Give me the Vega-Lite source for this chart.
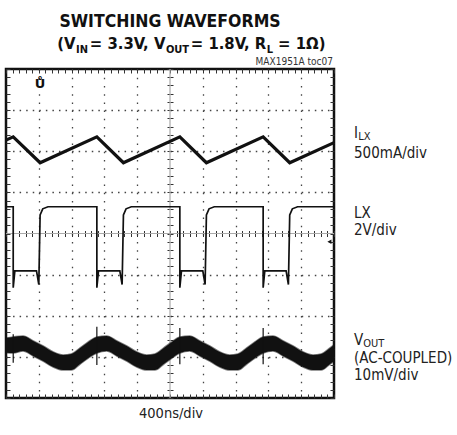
{
  "$schema": "https://vega.github.io/schema/vega-lite/v6.json",
  "width": 328,
  "height": 329,
  "autosize": {"type": "none"},
  "padding": {"left": 6, "top": 69, "right": 123, "bottom": 37},
  "background": "white",
  "config": {
    "view": {"stroke": "#111", "strokeWidth": 2.5},
    "font": "DejaVu Sans Condensed, Roboto Condensed, Roboto, sans-serif",
    "axis": {"labels": false, "domain": false, "grid": false, "tickColor": "#333", "tickWidth": 1}
  },
  "resolve": {
    "scale": {"x": "independent", "y": "independent"},
    "axis": {"x": "independent", "y": "independent"}
  },
  "datasets": {
    "crosshair": [
      {"x": 5, "x2": 5, "y": 0, "y2": 8},
      {"x": 0, "x2": 10, "y": 4, "y2": 4}
    ],
    "vout": [
      {"x": 0, "lo": 1.10, "hi": 1.46},
      {"x": 0.22, "lo": 1.095, "hi": 1.484},
      {"x": 0.52, "lo": 1.144, "hi": 1.509},
      {"x": 0.83, "lo": 1.022, "hi": 1.387},
      {"x": 1.13, "lo": 0.900, "hi": 1.265},
      {"x": 1.44, "lo": 0.754, "hi": 1.119},
      {"x": 1.74, "lo": 0.681, "hi": 1.046},
      {"x": 1.99, "lo": 0.681, "hi": 1.071},
      {"x": 2.26, "lo": 0.827, "hi": 1.217},
      {"x": 2.51, "lo": 0.973, "hi": 1.363},
      {"x": 2.77, "lo": 1.095, "hi": 1.484},
      {"x": 3.07, "lo": 1.144, "hi": 1.509},
      {"x": 3.38, "lo": 1.022, "hi": 1.387},
      {"x": 3.68, "lo": 0.900, "hi": 1.265},
      {"x": 3.99, "lo": 0.754, "hi": 1.119},
      {"x": 4.29, "lo": 0.681, "hi": 1.046},
      {"x": 4.54, "lo": 0.681, "hi": 1.071},
      {"x": 4.81, "lo": 0.827, "hi": 1.217},
      {"x": 5.06, "lo": 0.973, "hi": 1.363},
      {"x": 5.30, "lo": 1.095, "hi": 1.484},
      {"x": 5.60, "lo": 1.144, "hi": 1.509},
      {"x": 5.91, "lo": 1.022, "hi": 1.387},
      {"x": 6.21, "lo": 0.900, "hi": 1.265},
      {"x": 6.52, "lo": 0.754, "hi": 1.119},
      {"x": 6.82, "lo": 0.681, "hi": 1.046},
      {"x": 7.07, "lo": 0.681, "hi": 1.071},
      {"x": 7.34, "lo": 0.827, "hi": 1.217},
      {"x": 7.59, "lo": 0.973, "hi": 1.363},
      {"x": 7.84, "lo": 1.095, "hi": 1.484},
      {"x": 8.14, "lo": 1.144, "hi": 1.509},
      {"x": 8.45, "lo": 1.022, "hi": 1.387},
      {"x": 8.75, "lo": 0.900, "hi": 1.265},
      {"x": 9.06, "lo": 0.754, "hi": 1.119},
      {"x": 9.36, "lo": 0.681, "hi": 1.046},
      {"x": 9.61, "lo": 0.681, "hi": 1.071},
      {"x": 9.88, "lo": 0.827, "hi": 1.217},
      {"x": 10.0, "lo": 0.90, "hi": 1.29}
    ],
    "spikes": [
      {"x": 0.22, "lo": 0.86, "hi": 1.55},
      {"x": 2.77, "lo": 0.80, "hi": 1.73},
      {"x": 5.30, "lo": 0.82, "hi": 1.70},
      {"x": 7.84, "lo": 0.82, "hi": 1.70}
    ],
    "ilx": [
      {"x": 0, "y": 6.27},
      {"x": 0.22, "y": 6.35},
      {"x": 1.04, "y": 5.72},
      {"x": 2.77, "y": 6.35},
      {"x": 3.58, "y": 5.72},
      {"x": 5.30, "y": 6.35},
      {"x": 6.11, "y": 5.72},
      {"x": 7.84, "y": 6.35},
      {"x": 8.65, "y": 5.72},
      {"x": 10, "y": 6.21}
    ],
    "lx": [
      {"i": 0, "x": 0, "y": 4.65},
      {"i": 1, "x": 0.22, "y": 4.65},
      {"i": 2, "x": 0.22, "y": 2.68},
      {"i": 3, "x": 0.27, "y": 3.09},
      {"i": 4, "x": 0.93, "y": 3.09},
      {"i": 5, "x": 1.00, "y": 2.76},
      {"i": 6, "x": 1.04, "y": 4.45},
      {"i": 7, "x": 1.12, "y": 4.60},
      {"i": 8, "x": 1.28, "y": 4.65},
      {"i": 9, "x": 2.77, "y": 4.65},
      {"i": 10, "x": 2.77, "y": 2.68},
      {"i": 11, "x": 2.82, "y": 3.09},
      {"i": 12, "x": 3.47, "y": 3.09},
      {"i": 13, "x": 3.54, "y": 2.76},
      {"i": 14, "x": 3.58, "y": 4.45},
      {"i": 15, "x": 3.66, "y": 4.60},
      {"i": 16, "x": 3.82, "y": 4.65},
      {"i": 17, "x": 5.30, "y": 4.65},
      {"i": 18, "x": 5.30, "y": 2.68},
      {"i": 19, "x": 5.35, "y": 3.09},
      {"i": 20, "x": 6.00, "y": 3.09},
      {"i": 21, "x": 6.07, "y": 2.76},
      {"i": 22, "x": 6.11, "y": 4.45},
      {"i": 23, "x": 6.19, "y": 4.60},
      {"i": 24, "x": 6.35, "y": 4.65},
      {"i": 25, "x": 7.84, "y": 4.65},
      {"i": 26, "x": 7.84, "y": 2.68},
      {"i": 27, "x": 7.89, "y": 3.09},
      {"i": 28, "x": 8.54, "y": 3.09},
      {"i": 29, "x": 8.61, "y": 2.76},
      {"i": 30, "x": 8.65, "y": 4.45},
      {"i": 31, "x": 8.73, "y": 4.60},
      {"i": 32, "x": 8.89, "y": 4.65},
      {"i": 33, "x": 10, "y": 4.65}
    ],
    "trigger": [{"t": "Ů", "x": 1.04, "y": 7.54}],
    "arrow": [{"x": 9.86, "y": 3.80}],
    "titleLine1": [{"t": "SWITCHING WAVEFORMS", "x": 5.0, "y": 9.02}],
    "titleRight": [
      {"t": "(V", "x": 2.119, "y": 8.49},
      {"t": "= 3.3V, V", "x": 4.860, "y": 8.49},
      {"t": "= 1.8V, R", "x": 7.936, "y": 8.49}
    ],
    "titleLeft": [{"t": "= 1Ω)", "x": 8.296, "y": 8.49}],
    "titleSub": [
      {"t": "IN", "x": 2.134, "y": 8.39},
      {"t": "OUT", "x": 4.875, "y": 8.39},
      {"t": "L", "x": 7.951, "y": 8.39}
    ],
    "labels": [
      {"t": "I", "x": 10.61, "y": 6.32},
      {"t": "500mA/div", "x": 10.61, "y": 5.84},
      {"t": "LX", "x": 10.61, "y": 4.38},
      {"t": "2V/div", "x": 10.61, "y": 3.97},
      {"t": "V", "x": 10.61, "y": 1.30},
      {"t": "(AC-COUPLED)", "x": 10.61, "y": 0.86},
      {"t": "10mV/div", "x": 10.61, "y": 0.43}
    ],
    "labelSub": [
      {"t": "LX", "x": 10.74, "y": 6.265},
      {"t": "OUT", "x": 10.89, "y": 1.245}
    ],
    "xlabel": [{"t": "400ns/div", "x": 5.03, "y": -0.49}],
    "note": [{"t": "MAX1951A toc07", "x": 9.97, "y": 8.10}]
  },
  "layer": [
    {
      "data": {"name": "crosshair"},
      "mark": {"type": "rule", "color": "#aaaaaa", "strokeWidth": 1.2},
      "encoding": {
        "x": {"field": "x", "type": "quantitative", "title": null, "scale": {"domain": [0, 10], "nice": false, "zero": false},
          "axis": {"orient": "bottom", "values": [1, 2, 3, 4, 6, 7, 8, 9], "grid": true, "gridDash": [1.5, 6.72], "gridColor": "#444", "gridWidth": 1.3, "ticks": false}},
        "x2": {"field": "x2"},
        "y": {"field": "y", "type": "quantitative", "title": null, "scale": {"domain": [0, 8], "nice": false, "zero": false},
          "axis": {"orient": "left", "values": [1, 2, 3, 5, 6, 7], "grid": true, "gridDash": [1.5, 5.06], "gridColor": "#444", "gridWidth": 1.3, "ticks": false}},
        "y2": {"field": "y2"}
      }
    },
    {
      "data": {"name": "vout"},
      "mark": {"type": "area", "color": "#111", "stroke": "#111", "strokeWidth": 1.6, "strokeOpacity": 0.55, "interpolate": "monotone"},
      "encoding": {
        "x": {"field": "x", "type": "quantitative", "title": null, "scale": {"domain": [0, 10], "nice": false, "zero": false},
          "axis": {"orient": "bottom", "offset": -329, "tickCount": 50, "tickSize": 4}},
        "y": {"field": "lo", "type": "quantitative", "title": null, "scale": {"domain": [0, 8], "nice": false, "zero": false},
          "axis": {"orient": "right", "offset": -328, "tickCount": 40, "tickSize": 4}},
        "y2": {"field": "hi"}
      }
    },
    {
      "data": {"name": "ilx"},
      "mark": {"type": "line", "color": "#111", "strokeWidth": 3.2},
      "encoding": {
        "x": {"field": "x", "type": "quantitative", "title": null, "scale": {"domain": [0, 10], "nice": false, "zero": false},
          "axis": {"orient": "top", "offset": -329, "tickCount": 50, "tickSize": 4}},
        "y": {"field": "y", "type": "quantitative", "title": null, "scale": {"domain": [0, 8], "nice": false, "zero": false},
          "axis": {"orient": "left", "offset": -328, "tickCount": 40, "tickSize": 4}}
      }
    },
    {
      "data": {"name": "lx"},
      "mark": {"type": "line", "color": "#111", "strokeWidth": 1.7},
      "encoding": {
        "x": {"field": "x", "type": "quantitative", "title": null, "scale": {"domain": [0, 10], "nice": false, "zero": false},
          "axis": {"orient": "bottom", "offset": -164.5, "tickCount": 50, "tickSize": 3}},
        "y": {"field": "y", "type": "quantitative", "title": null, "scale": {"domain": [0, 8], "nice": false, "zero": false},
          "axis": {"orient": "left", "offset": -164, "tickCount": 40, "tickSize": 3}},
        "order": {"field": "i", "type": "quantitative"}
      }
    },
    {
      "data": {"name": "spikes"},
      "mark": {"type": "rule", "color": "#111", "strokeWidth": 1.2},
      "encoding": {
        "x": {"field": "x", "type": "quantitative", "title": null, "scale": {"domain": [0, 10], "nice": false, "zero": false},
          "axis": {"orient": "top", "offset": -164.5, "tickCount": 50, "tickSize": 3}},
        "y": {"field": "lo", "type": "quantitative", "title": null, "scale": {"domain": [0, 8], "nice": false, "zero": false},
          "axis": {"orient": "right", "offset": -164, "tickCount": 40, "tickSize": 3}},
        "y2": {"field": "hi"}
      }
    },
    {
      "data": {"name": "trigger"},
      "mark": {"type": "text", "font": "DejaVu Sans", "fontWeight": "bold", "fontSize": 13, "align": "center", "baseline": "alphabetic", "color": "#111"},
      "encoding": {
        "x": {"field": "x", "type": "quantitative", "scale": {"domain": [0, 10], "nice": false, "zero": false}, "axis": null},
        "y": {"field": "y", "type": "quantitative", "scale": {"domain": [0, 8], "nice": false, "zero": false}, "axis": null},
        "text": {"field": "t"}
      }
    },
    {
      "data": {"name": "arrow"},
      "mark": {"type": "point", "shape": "triangle-left", "filled": true, "size": 22, "color": "#111", "opacity": 1},
      "encoding": {
        "x": {"field": "x", "type": "quantitative", "scale": {"domain": [0, 10], "nice": false, "zero": false}, "axis": null},
        "y": {"field": "y", "type": "quantitative", "scale": {"domain": [0, 8], "nice": false, "zero": false}, "axis": null}
      }
    },
    {
      "data": {"name": "titleLine1"},
      "mark": {"type": "text", "fontWeight": "bold", "fontSize": 17.5, "align": "center", "baseline": "alphabetic", "color": "#111"},
      "encoding": {
        "x": {"field": "x", "type": "quantitative", "scale": {"domain": [0, 10], "nice": false, "zero": false}, "axis": null},
        "y": {"field": "y", "type": "quantitative", "scale": {"domain": [0, 8], "nice": false, "zero": false}, "axis": null},
        "text": {"field": "t"}
      }
    },
    {
      "data": {"name": "titleRight"},
      "mark": {"type": "text", "fontWeight": "bold", "fontSize": 16.5, "align": "right", "baseline": "alphabetic", "color": "#111"},
      "encoding": {
        "x": {"field": "x", "type": "quantitative", "scale": {"domain": [0, 10], "nice": false, "zero": false}, "axis": null},
        "y": {"field": "y", "type": "quantitative", "scale": {"domain": [0, 8], "nice": false, "zero": false}, "axis": null},
        "text": {"field": "t"}
      }
    },
    {
      "data": {"name": "titleLeft"},
      "mark": {"type": "text", "fontWeight": "bold", "fontSize": 16.5, "align": "left", "baseline": "alphabetic", "color": "#111"},
      "encoding": {
        "x": {"field": "x", "type": "quantitative", "scale": {"domain": [0, 10], "nice": false, "zero": false}, "axis": null},
        "y": {"field": "y", "type": "quantitative", "scale": {"domain": [0, 8], "nice": false, "zero": false}, "axis": null},
        "text": {"field": "t"}
      }
    },
    {
      "data": {"name": "titleSub"},
      "mark": {"type": "text", "fontWeight": "bold", "fontSize": 11, "align": "left", "baseline": "alphabetic", "color": "#111"},
      "encoding": {
        "x": {"field": "x", "type": "quantitative", "scale": {"domain": [0, 10], "nice": false, "zero": false}, "axis": null},
        "y": {"field": "y", "type": "quantitative", "scale": {"domain": [0, 8], "nice": false, "zero": false}, "axis": null},
        "text": {"field": "t"}
      }
    },
    {
      "data": {"name": "labels"},
      "mark": {"type": "text", "fontSize": 15, "align": "left", "baseline": "alphabetic", "color": "#222"},
      "encoding": {
        "x": {"field": "x", "type": "quantitative", "scale": {"domain": [0, 10], "nice": false, "zero": false}, "axis": null},
        "y": {"field": "y", "type": "quantitative", "scale": {"domain": [0, 8], "nice": false, "zero": false}, "axis": null},
        "text": {"field": "t"}
      }
    },
    {
      "data": {"name": "labelSub"},
      "mark": {"type": "text", "fontSize": 11, "align": "left", "baseline": "alphabetic", "color": "#222"},
      "encoding": {
        "x": {"field": "x", "type": "quantitative", "scale": {"domain": [0, 10], "nice": false, "zero": false}, "axis": null},
        "y": {"field": "y", "type": "quantitative", "scale": {"domain": [0, 8], "nice": false, "zero": false}, "axis": null},
        "text": {"field": "t"}
      }
    },
    {
      "data": {"name": "xlabel"},
      "mark": {"type": "text", "fontSize": 14.5, "align": "center", "baseline": "alphabetic", "color": "#222"},
      "encoding": {
        "x": {"field": "x", "type": "quantitative", "scale": {"domain": [0, 10], "nice": false, "zero": false}, "axis": null},
        "y": {"field": "y", "type": "quantitative", "scale": {"domain": [0, 8], "nice": false, "zero": false}, "axis": null},
        "text": {"field": "t"}
      }
    },
    {
      "data": {"name": "note"},
      "mark": {"type": "text", "fontSize": 10, "align": "right", "baseline": "alphabetic", "color": "#333"},
      "encoding": {
        "x": {"field": "x", "type": "quantitative", "scale": {"domain": [0, 10], "nice": false, "zero": false}, "axis": null},
        "y": {"field": "y", "type": "quantitative", "scale": {"domain": [0, 8], "nice": false, "zero": false}, "axis": null},
        "text": {"field": "t"}
      }
    }
  ]
}
